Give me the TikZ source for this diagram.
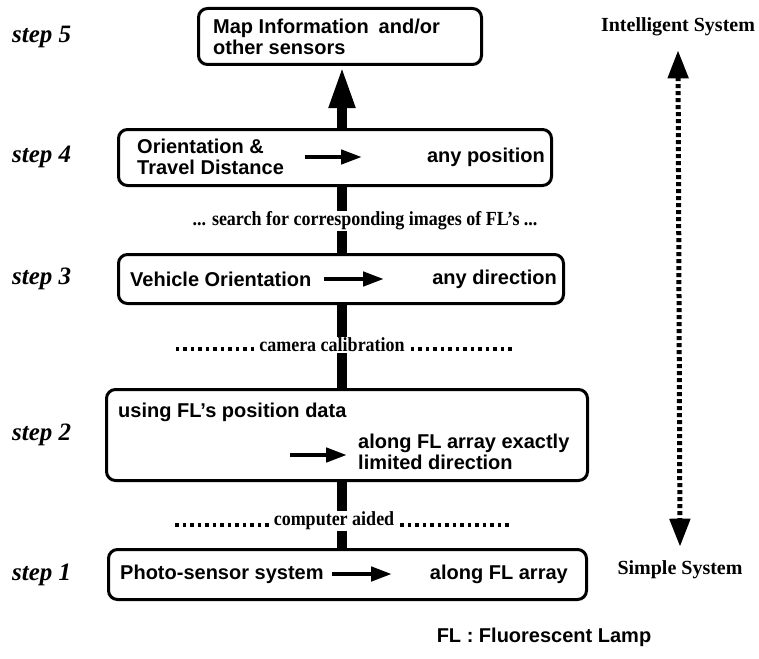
\documentclass[tikz,border=0pt]{standalone}
\usepackage{fontspec}
\setmainfont{Liberation Serif}
\setsansfont{Liberation Sans}
\newfontfamily\condserif{Liberation Serif}[FakeStretch=0.9]
\usetikzlibrary{arrows.meta}
\begin{document}
\begin{tikzpicture}[x=1pt,y=-1pt,
  box/.style={draw, line width=3pt, rounded corners=9pt, inner sep=0pt},
  txt/.style={font=\sffamily\bfseries\fontsize{20}{21}\selectfont, inner sep=0pt, align=left},
  steplbl/.style={font=\rmfamily\bfseries\itshape\fontsize{25}{26}\selectfont, inner sep=0pt, anchor=west},
  midlbl/.style={font=\condserif\bfseries\fontsize{20}{22}\selectfont, fill=white, inner sep=1pt},
  syslbl/.style={font=\rmfamily\bfseries\fontsize{20}{22}\selectfont, inner sep=0pt},
  shaft/.style={line width=10pt},
  inarrow/.style={line width=4.5pt, -{Triangle[length=21pt,width=14pt]}},
  dotline/.style={line width=5pt, dash pattern=on 4pt off 3pt},
  leader/.style={line width=3.5pt, dash pattern=on 3.5pt off 4pt},
]
\useasboundingbox (0,0) rectangle (759,658);

% boxes
\node[box, minimum width=283pt, minimum height=56pt] (b5) at (340,36.5) {};
\node[box, minimum width=433pt, minimum height=56pt] (b4) at (335,157.5) {};
\node[box, minimum width=445pt, minimum height=49pt] (b3) at (341,279) {};
\node[box, minimum width=481pt, minimum height=91pt] (b2) at (347,435) {};
\node[box, minimum width=478pt, minimum height=50pt] (b1) at (347.5,574.5) {};

% box texts
\node[txt, anchor=west] (t5) at (213,37) {Map Information\hspace{10pt}and/or\\other sensors};
\node[txt, anchor=west] (t4a) at (137,157) {Orientation \&\\Travel Distance};
\node[txt, anchor=east] (t4b) at (545,157) {any position};
\node[txt, anchor=west] (t3a) at (130,279) {Vehicle Orientation};
\node[txt, anchor=east] (t3b) at (557,279) {any direction};
\node[txt, anchor=west] (t2a) at (118,412) {using FL’s position data};
\node[txt, anchor=west] (t2b) at (358,452) {along FL array exactly\\limited direction};
\node[txt, anchor=west] (t1a) at (120,574) {Photo-sensor system};
\node[txt, anchor=east] (t1b) at (568,574) {along FL array};

% arrows inside boxes
\coordinate (a4s) at (305,157); \coordinate (a4e) at (362,157);
\coordinate (a3s) at (324,279); \coordinate (a3e) at (384,279);
\coordinate (a2s) at (290,455); \coordinate (a2e) at (347,455);
\coordinate (a1s) at (332,574); \coordinate (a1e) at (392,574);
\draw[inarrow] (a4s) -- (a4e);
\draw[inarrow] (a3s) -- (a3e);
\draw[inarrow] (a2s) -- (a2e);
\draw[inarrow] (a1s) -- (a1e);

% step labels
\node[steplbl] (s5) at (12,37) {step 5};
\node[steplbl] (s4) at (12,157) {step 4};
\node[steplbl] (s3) at (12,279) {step 3};
\node[steplbl] (s2) at (12,435) {step 2};
\node[steplbl] (s1) at (12,575) {step 1};

% central shaft
\coordinate (sx) at (342,0);
\draw[shaft] (b1.north -| sx) -- (b2.south -| sx);
\draw[shaft] (b2.north -| sx) -- (b3.south -| sx);
\draw[shaft] (b3.north -| sx) -- (b4.south -| sx);
\draw[shaft, -{Triangle[length=42pt,width=24pt]}] (b4.north -| sx) -- (b5.south -| sx);

% middle labels
\node[midlbl] (m4) at (365,221) {... search for corresponding images of FL’s ...};
\node[midlbl] (m3) at (332,345) {camera calibration};
\node[midlbl] (m2) at (334,521) {computer aided};
\draw[leader] ([xshift=-4pt,yshift=-4pt]m3.west) -- ++(-78.5,0);
\draw[leader] ([xshift=5pt,yshift=-4pt]m3.east) -- ++(101,0);
\draw[leader] ([xshift=-4pt,yshift=-4pt]m2.west) -- ++(-93.5,0);
\draw[leader] ([xshift=5pt,yshift=-4pt]m2.east) -- ++(108.5,0);

% right side
\node[syslbl] (isys) at (678,27) {Intelligent System};
\node[syslbl] (ssys) at (680,570) {Simple System};
\draw[dotline, {Triangle[length=28pt,width=20pt]}-{Triangle[length=28pt,width=20pt]}]
  ([yshift=-14pt]isys.south) -- ([yshift=14pt]ssys.north);

% footnote
\node[txt] (fl) at (544,637) {FL : Fluorescent Lamp};
\end{tikzpicture}
\end{document}
